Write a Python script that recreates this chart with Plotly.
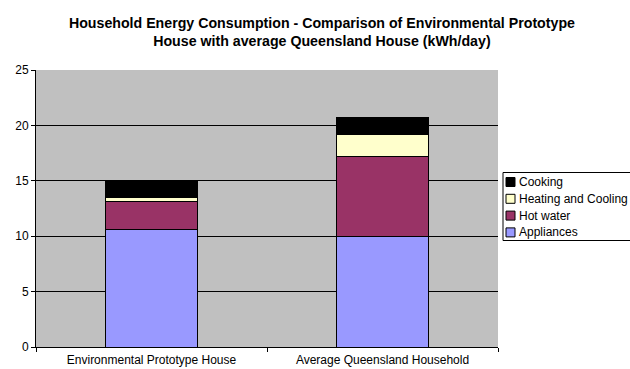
import plotly.graph_objects as go

categories = ["Environmental Prototype House", "Average Queensland Household"]
appliances = [10.6, 10.0]
hot_water = [2.5, 7.15]
heating_cooling = [0.35, 2.0]
cooking = [1.55, 1.6]

series = [
    ("Appliances", appliances, "#9999FF"),
    ("Hot water", hot_water, "#993366"),
    ("Heating and Cooling", heating_cooling, "#FFFFCC"),
    ("Cooking", cooking, "#000000"),
]

W, H = 630, 369
ML, MR, MT, MB = 36, 132, 70, 22
PW, PH = W - ML - MR, H - MT - MB


def px(x):
    return (x - ML) / PW


def py(y):
    return (H - MB - y) / PH


fig = go.Figure()
for name, vals, col in series:
    fig.add_trace(go.Bar(
        x=categories, y=vals, name=name, showlegend=False,
        marker=dict(color=col, line=dict(color="#000000", width=1)),
    ))

# Excel-style legend (box, swatches, labels) drawn from the series list
shapes = [dict(type="rect", xref="paper", yref="paper",
               x0=px(503), x1=px(640), y0=py(240.5), y1=py(172.5),
               line=dict(color="black", width=1), fillcolor="white", layer="above")]
annotations = []
for i, (name, vals, col) in enumerate(reversed(series)):
    cy = 182 + 16.8 * i
    shapes.append(dict(type="rect", xref="paper", yref="paper",
                       x0=px(506), x1=px(515), y0=py(cy + 4.5), y1=py(cy - 4.5),
                       line=dict(color="black", width=1), fillcolor=col, layer="above"))
    annotations.append(dict(xref="paper", yref="paper", x=px(517), y=py(cy),
                            xanchor="left", yanchor="middle", showarrow=False,
                            text=name, font=dict(size=12, color="black")))

fig.update_layout(
    barmode="stack",
    bargap=0.6,
    width=W, height=H,
    margin=dict(l=ML, r=MR, t=MT, b=MB, autoexpand=False),
    paper_bgcolor="white",
    plot_bgcolor="#C0C0C0",
    font=dict(family="Liberation Sans, Arial, sans-serif", size=12, color="black"),
    title=dict(
        text="<b>Household Energy Consumption - Comparison of Environmental Prototype<br>House with average Queensland House (kWh/day)</b>",
        x=0.511, xanchor="center", y=0.925, yanchor="top",
        font=dict(size=14.2, family="Liberation Sans, Arial, sans-serif", color="black"),
    ),
    shapes=shapes,
    annotations=annotations,
    showlegend=False,
)
fig.update_yaxes(
    range=[0, 25], dtick=5, showgrid=True, gridcolor="black", gridwidth=1,
    showline=True, linecolor="black", linewidth=1,
    ticks="outside", ticklen=4, tickcolor="black", zeroline=False,
)
fig.update_xaxes(
    showline=True, linecolor="black", linewidth=1,
    ticks="outside", ticklen=4, tickcolor="black", tickson="boundaries",
    ticklabelstandoff=2,
)

fig.write_html("out.html")
